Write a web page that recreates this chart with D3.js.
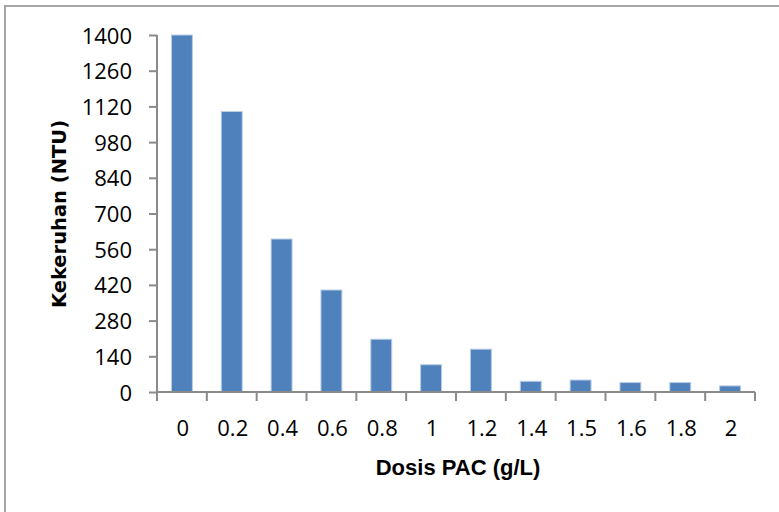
<!DOCTYPE html>
<html>
<head>
<meta charset="utf-8">
<script src="https://cdn.jsdelivr.net/npm/d3@7/dist/d3.min.js"></script>
<style>
  html, body { margin: 0; padding: 0; background: #fff; }
  svg { display: block; }
</style>
</head>
<body>
<svg id="chart" width="779" height="512"></svg>
<script>
const categories = ["0", "0.2", "0.4", "0.6", "0.8", "1", "1.2", "1.4", "1.5", "1.6", "1.8", "2"];
const values = [1400, 1100, 600, 400, 207, 107, 168, 42, 47, 37, 37, 24];
const yTicks = [0, 140, 280, 420, 560, 700, 840, 980, 1120, 1260, 1400];
const xTitle = "Dosis PAC (g/L)";
const yTitle = "Kekeruhan (NTU)";

(function () {
const svg = d3.select("#chart");
const W = 779, H = 512;
const pLeft = 157, pRight = 755, pTop = 35, pBottom = 392;
const axisColor = "#8a8a8a";
const tickFont = "Open Sans, sans-serif";

// outer chart border (left and top visible)
svg.append("rect")
  .attr("x", 5).attr("y", 6)
  .attr("width", W + 20).attr("height", H + 20)
  .attr("fill", "none")
  .attr("stroke", "#a6a6a6")
  .attr("stroke-width", 2);

const x = d3.scaleBand().domain(categories).range([pLeft, pRight]).padding(0);
const y = d3.scaleLinear().domain([0, 1400]).range([pBottom, pTop]);

const barW = x.bandwidth() * 0.42;

// bars
svg.append("g").selectAll("rect")
  .data(values)
  .join("rect")
  .attr("x", (d, i) => x(categories[i]) + (x.bandwidth() - barW) / 2)
  .attr("y", d => y(d))
  .attr("width", barW)
  .attr("height", d => y(0) - y(d))
  .attr("fill", "#4f81bd")
  .attr("stroke", "#b9cde5")
  .attr("stroke-width", 1);

// y axis
const yAxis = d3.axisLeft(y).tickValues(yTicks).tickSize(8).tickPadding(16).tickFormat(d3.format("d"));
const gy = svg.append("g").attr("transform", `translate(${pLeft},0)`).call(yAxis);
gy.select(".domain").attr("stroke", axisColor).attr("stroke-width", 2)
  .attr("d", `M0,${pTop}V${pBottom}`);
gy.selectAll(".tick line").attr("stroke", axisColor).attr("stroke-width", 2);
gy.selectAll(".tick text")
  .attr("font-family", tickFont)
  .attr("font-size", 22)
  .attr("fill", "#000")
  .attr("dy", null)
  .attr("y", 8)
  .attr("x", -25);

// x axis: ticks at band boundaries
const gx = svg.append("g").attr("transform", `translate(0,${pBottom})`);
gx.append("line")
  .attr("x1", pLeft).attr("x2", pRight)
  .attr("y1", 0).attr("y2", 0)
  .attr("stroke", axisColor).attr("stroke-width", 2);
const bounds = categories.map(c => x(c)).concat([x(categories[categories.length - 1]) + x.bandwidth()]);
gx.selectAll("line.tk")
  .data(bounds)
  .join("line")
  .attr("class", "tk")
  .attr("x1", d => d).attr("x2", d => d)
  .attr("y1", 0).attr("y2", 9)
  .attr("stroke", axisColor).attr("stroke-width", 2);
gx.selectAll("text")
  .data(categories)
  .join("text")
  .attr("x", d => x(d) + x.bandwidth() / 2 + 1)
  .attr("y", 436 - pBottom)
  .attr("text-anchor", "middle")
  .attr("font-family", tickFont)
  .attr("font-size", 22)
  .attr("fill", "#000")
  .text(d => d);

// axis titles
svg.append("text")
  .attr("x", 458).attr("y", 475)
  .attr("text-anchor", "middle")
  .attr("font-family", "Liberation Sans, Arial, sans-serif")
  .attr("font-weight", "bold")
  .attr("font-size", 22)
  .attr("fill", "#000")
  .text(xTitle);

svg.append("text")
  .attr("transform", "translate(66,214) rotate(-90)")
  .attr("text-anchor", "middle")
  .attr("font-family", "DejaVu Sans, sans-serif")
  .attr("font-weight", "bold")
  .attr("font-size", 19.5)
  .attr("fill", "#000")
  .text(yTitle);
})();
</script>
</body>
</html>
